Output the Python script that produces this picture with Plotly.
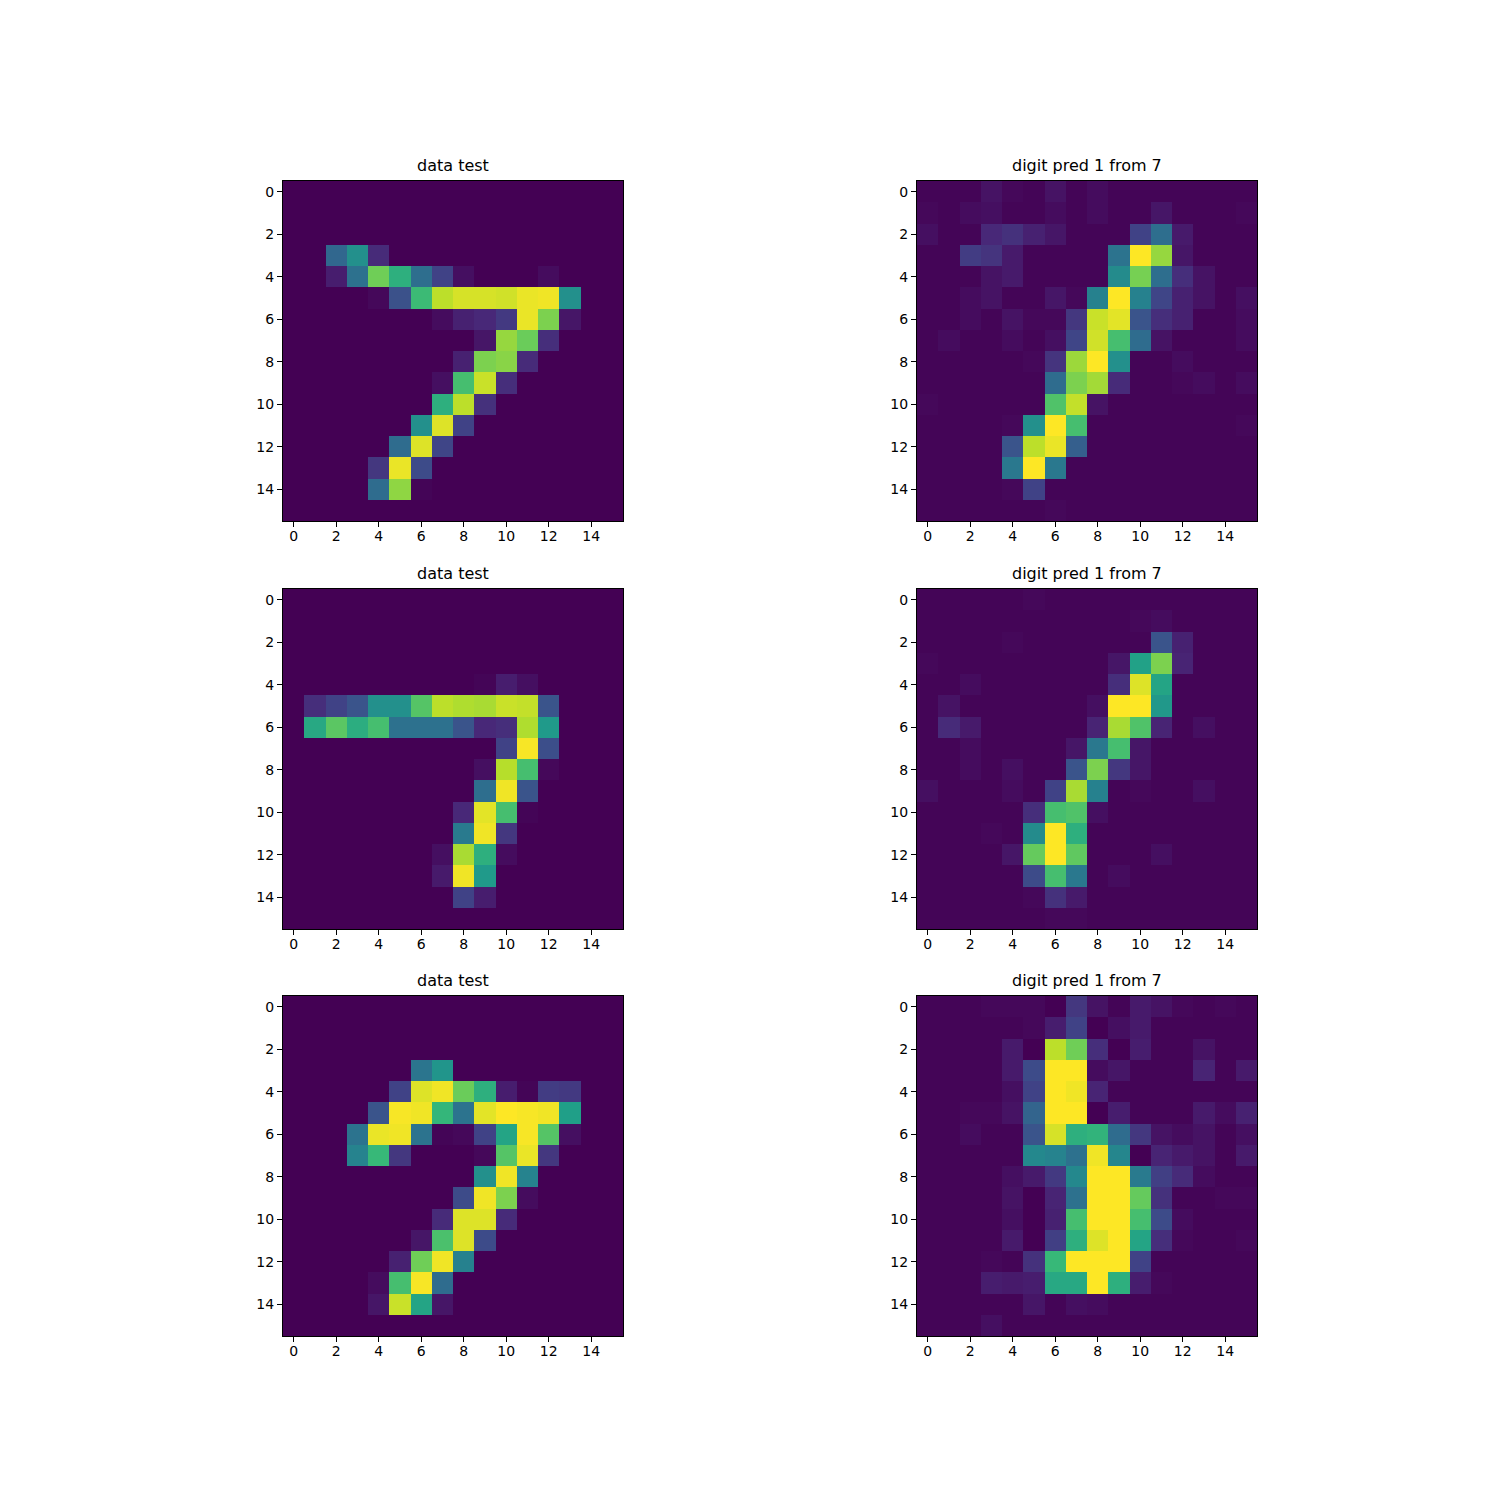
import plotly.graph_objects as go

titles = ["data test", "digit pred 1 from 7"]
tick_vals = [0, 2, 4, 6, 8, 10, 12, 14]
Z0 = [0.0] * 16

test_1 = [
    Z0, Z0, Z0,
    [0,0,.33,.5,.12,0,0,0,0,0,0,0,0,0,0,0],
    [0,0,.08,.37,.78,.63,.36,.2,.04,0,0,0,.03,0,0,0],
    [0,0,0,0,.02,.25,.68,.9,.94,.94,.93,.97,.98,.5,0,0],
    [0,0,0,0,0,0,0,.03,.09,.11,.17,.97,.8,.06,0,0],
    [0,0,0,0,0,0,0,0,0,.06,.84,.77,.13,0,0,0],
    [0,0,0,0,0,0,0,0,.09,.8,.82,.12,0,0,0,0],
    [0,0,0,0,0,0,0,.04,.7,.92,.13,0,0,0,0,0],
    [0,0,0,0,0,0,0,.63,.9,.14,0,0,0,0,0,0],
    [0,0,0,0,0,0,.5,.95,.2,0,0,0,0,0,0,0],
    [0,0,0,0,0,.35,.95,.21,0,0,0,0,0,0,0,0],
    [0,0,0,0,.16,.97,.23,0,0,0,0,0,0,0,0,0],
    [0,0,0,0,.35,.83,.01,0,0,0,0,0,0,0,0,0],
    Z0,
]

pred_1 = [
    [.01,.01,.01,.05,.02,.01,.05,.01,.03,.01,.01,.01,.01,.01,.01,.01],
    [.02,.01,.03,.04,.01,.01,.03,.01,.03,.01,.01,.06,.01,.01,.01,.02],
    [.04,.01,.01,.11,.14,.09,.06,.01,.01,.01,.2,.36,.07,.01,.01,.01],
    [.01,.01,.18,.15,.07,.01,.01,.01,.01,.38,1,.84,.06,.01,.01,.01],
    [.01,.01,.01,.05,.07,.01,.01,.01,.01,.48,.79,.36,.13,.05,.01,.01],
    [.01,.01,.03,.05,.01,.01,.06,.02,.44,1,.44,.21,.09,.05,.01,.04],
    [.01,.01,.03,.01,.05,.02,.02,.16,.92,.96,.26,.13,.09,.01,.01,.03],
    [.01,.03,.01,.01,.03,.01,.04,.21,.93,.7,.35,.05,.01,.01,.01,.03],
    [.01,.01,.01,.01,.01,.02,.15,.85,1,.5,.01,.01,.03,.01,.01,.01],
    [.01,.01,.01,.01,.01,.01,.35,.8,.86,.12,.01,.01,.02,.03,.01,.03],
    [.02,.01,.01,.01,.01,.01,.72,.91,.05,.01,.01,.01,.01,.01,.01,.01],
    [.01,.01,.01,.01,.02,.5,1,.7,.01,.01,.01,.01,.01,.01,.01,.02],
    [.01,.01,.01,.01,.26,.9,.97,.3,.01,.01,.01,.01,.01,.01,.01,.01],
    [.01,.01,.01,.01,.4,1,.4,.01,.01,.01,.01,.01,.01,.01,.01,.01],
    [.01,.01,.01,.01,.02,.2,.01,.01,.01,.01,.01,.01,.01,.01,.01,.01],
    [.01,.01,.01,.01,.01,.01,.02,.01,.01,.01,.01,.01,.01,.01,.01,.01],
]

test_2 = [
    Z0, Z0, Z0, Z0,
    [0,0,0,0,0,0,0,0,0,.01,.08,.04,0,0,0,0],
    [0,.13,.2,.26,.5,.5,.73,.9,.88,.87,.92,.91,.26,0,0,0],
    [0,.6,.74,.62,.7,.37,.37,.37,.26,.11,.13,.88,.54,0,0,0],
    [0,0,0,0,0,0,0,0,0,0,.2,.99,.24,0,0,0],
    [0,0,0,0,0,0,0,0,0,.04,.89,.7,.02,0,0,0],
    [0,0,0,0,0,0,0,0,0,.36,.98,.26,0,0,0,0],
    [0,0,0,0,0,0,0,0,.11,.96,.7,.01,0,0,0,0],
    [0,0,0,0,0,0,0,0,.41,.98,.16,0,0,0,0,0],
    [0,0,0,0,0,0,0,.04,.87,.63,.03,0,0,0,0,0],
    [0,0,0,0,0,0,0,.07,.98,.54,0,0,0,0,0,0],
    [0,0,0,0,0,0,0,0,.2,.08,0,0,0,0,0,0],
    Z0,
]

pred_2 = [
    [.01,.01,.01,.01,.01,.02,.01,.01,.01,.01,.01,.01,.01,.01,.01,.01],
    [.01,.01,.01,.01,.01,.01,.01,.01,.01,.01,.02,.03,.01,.01,.01,.01],
    [.01,.01,.01,.01,.02,.01,.01,.01,.01,.01,.01,.26,.09,.01,.01,.01],
    [.02,.01,.01,.01,.01,.01,.01,.01,.01,.06,.57,.8,.1,.01,.01,.01],
    [.01,.01,.03,.01,.01,.01,.01,.01,.01,.13,.95,.58,.01,.01,.01,.01],
    [.01,.05,.01,.01,.01,.01,.01,.01,.04,1,1,.53,.01,.01,.01,.01],
    [.01,.12,.07,.01,.01,.01,.01,.01,.1,.87,.72,.1,.01,.04,.01,.01],
    [.01,.01,.03,.01,.01,.01,.01,.06,.4,.7,.06,.01,.01,.01,.01,.01],
    [.01,.01,.03,.01,.04,.01,.01,.26,.8,.16,.06,.01,.01,.01,.01,.01],
    [.04,.01,.01,.01,.03,.01,.2,.87,.44,.01,.02,.01,.01,.04,.01,.01],
    [.01,.01,.01,.01,.01,.13,.7,.72,.04,.01,.01,.01,.01,.01,.01,.01],
    [.01,.01,.01,.02,.01,.48,1,.63,.01,.01,.01,.01,.01,.01,.01,.01],
    [.01,.01,.01,.01,.06,.76,1,.75,.01,.01,.01,.04,.01,.01,.01,.01],
    [.01,.01,.01,.01,.01,.23,.7,.4,.01,.03,.01,.01,.01,.01,.01,.01],
    [.01,.01,.01,.01,.01,.02,.14,.07,.01,.01,.01,.01,.01,.01,.01,.01],
    [.01,.01,.01,.01,.01,.01,.02,.02,.01,.01,.01,.01,.01,.01,.01,.01],
]

test_3 = [
    Z0, Z0, Z0,
    [0,0,0,0,0,0,.39,.52,0,0,0,0,0,0,0,0],
    [0,0,0,0,0,.2,.95,.98,.77,.63,.08,.01,.18,.17,0,0],
    [0,0,0,0,.26,.99,.98,.66,.38,.96,1,.99,.98,.56,0,0],
    [0,0,0,.38,.97,.98,.38,.01,.02,.2,.58,.99,.73,.04,0,0],
    [0,0,0,.45,.67,.16,0,0,0,.02,.73,.97,.16,0,0,0],
    [0,0,0,0,0,0,0,0,0,.5,.98,.45,0,0,0,0],
    [0,0,0,0,0,0,0,0,.23,.98,.8,.03,0,0,0,0],
    [0,0,0,0,0,0,0,.12,.95,.95,.12,0,0,0,0,0],
    [0,0,0,0,0,0,.06,.71,.95,.23,0,0,0,0,0,0],
    [0,0,0,0,0,.09,.78,.98,.44,0,0,0,0,0,0,0],
    [0,0,0,0,.03,.7,.99,.35,0,0,0,0,0,0,0,0],
    [0,0,0,0,.06,.92,.58,.06,0,0,0,0,0,0,0,0],
    Z0,
]

pred_3 = [
    [.01,.01,.01,.02,.02,.02,0,.16,.05,.01,.07,.05,.02,.01,.02,.01],
    [.01,.01,.01,.01,.01,.02,.08,.2,0,.04,.07,.01,.01,.01,.01,.01],
    [.01,.01,.01,.01,.07,0,.9,.78,.13,0,.08,.01,.01,.05,.01,.01],
    [.01,.01,.01,.01,.07,.23,1,1,.03,.06,.01,.01,.01,.1,.01,.07],
    [.01,.01,.01,.01,.04,.2,1,.98,.1,.01,.01,.01,.01,.01,.01,.01],
    [.01,.01,.02,.02,.05,.32,1,1,0,.08,.01,.01,.01,.07,.03,.09],
    [.01,.01,.03,.01,.01,.26,.94,.63,.65,.35,.16,.05,.03,.05,.01,.04],
    [.01,.01,.01,.01,.01,.47,.45,.37,.98,.46,0,.1,.07,.05,.01,.07],
    [.01,.01,.01,.01,.04,.07,.17,.47,1,1,.41,.19,.12,.03,.01,.01],
    [.01,.01,.01,.01,.05,0,.1,.37,1,1,.76,.14,.01,.01,.02,.02],
    [.01,.01,.01,.01,.04,0,.09,.7,1,1,.7,.23,.03,.01,.01,.01],
    [.01,.01,.01,.01,.07,0,.19,.63,.95,1,.58,.13,.02,.01,.01,.02],
    [.01,.01,.01,.02,.01,.14,.67,1,1,1,.2,.01,.01,.01,.01,.01],
    [.01,.01,.01,.08,.07,.08,.6,.6,1,.63,.08,.02,.01,.01,.01,.01],
    [.01,.01,.01,.01,.01,.06,.01,.04,.03,.01,.01,.01,.01,.01,.01,.01],
    [.01,.01,.01,.04,.01,.01,.01,.01,.01,.01,.01,.01,.01,.01,.01,.01],
]

panels = [[test_1, pred_1], [test_2, pred_2], [test_3, pred_3]]

W = H = 1500
OFF = 7  # page offset of the plot div in the browser
col_px = [(282, 622), (916, 1256)]
row_px = [(180, 520), (588, 928), (995, 1335)]

fig = go.Figure()
annotations = []
idx = 0
for r in range(3):
    for c in range(2):
        idx += 1
        xa = "x" if idx == 1 else f"x{idx}"
        ya = "y" if idx == 1 else f"y{idx}"
        fig.add_trace(go.Heatmap(
            z=panels[r][c], x=list(range(16)), y=list(range(16)),
            colorscale="Viridis", zmin=0, zmax=1, showscale=False,
            xaxis=xa, yaxis=ya, hoverinfo="skip",
        ))
        x0, x1 = col_px[c]
        t, b = row_px[r]
        xd = [(x0 - OFF) / W, (x1 - OFF) / W]
        yd = [1 - (b - OFF) / H, 1 - (t - OFF) / H]
        common = dict(
            showgrid=False, zeroline=False, showline=True, mirror=True,
            linecolor="black", linewidth=1, ticks="outside", ticklen=5,
            tickwidth=1, tickcolor="black", tickvals=tick_vals,
            tickfont=dict(family="DejaVu Sans", size=14, color="black"),
        )
        fig.layout[("xaxis" if idx == 1 else f"xaxis{idx}")] = dict(
            domain=xd, range=[-0.5, 15.5], anchor=ya,
            ticklabelstandoff=-3, **common)
        fig.layout[("yaxis" if idx == 1 else f"yaxis{idx}")] = dict(
            domain=yd, range=[15.5, -0.5], anchor=xa, **common)
        annotations.append(dict(
            text=titles[c], x=(xd[0] + xd[1]) / 2, y=yd[1],
            xref="paper", yref="paper", xanchor="center", yanchor="bottom",
            yshift=4, showarrow=False,
            font=dict(family="DejaVu Sans", size=16, color="black"),
        ))

fig.update_layout(
    width=W, height=H, margin=dict(l=0, r=0, t=0, b=0),
    paper_bgcolor="white", plot_bgcolor="white",
    annotations=annotations, showlegend=False,
)

fig.write_html("out.html")
